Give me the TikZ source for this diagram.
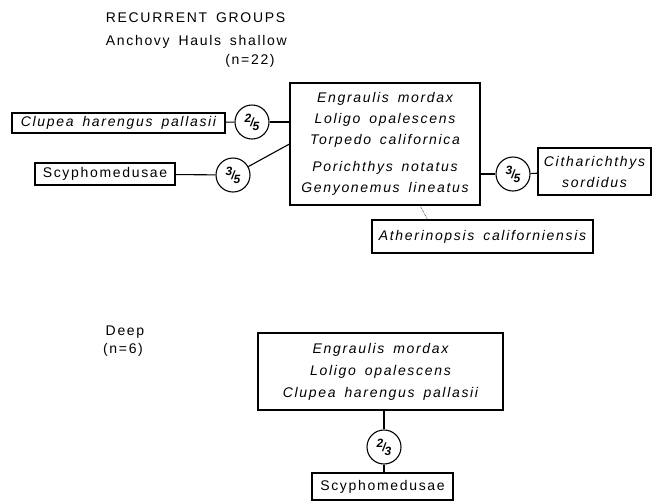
\documentclass[tikz,border=0pt]{standalone}
\usepackage{fontspec}
\setmainfont{Liberation Sans}[LetterSpace=12,WordSpace=1.6]
\usetikzlibrary{calc}
\newcommand{\slfrac}[2]{\raisebox{4pt}{#1}\kern-1pt/\kern-1pt\raisebox{-4pt}{#2}}

\begin{document}
\begin{tikzpicture}[x=1pt, y=-1pt, line width=1.1pt,
  box/.style = {draw, inner sep=0pt, align=center, font=\itshape\fontsize{14}{21}\selectfont},
  plainbox/.style = {box, font=\upshape\fontsize{14}{21}\selectfont},
  ratio/.style = {draw, circle, minimum size=34pt, inner sep=0pt, font=\bfseries\itshape\fontsize{12}{12}\selectfont},
  lbl/.style = {font=\fontsize{14}{18}\selectfont}]
\useasboundingbox (0,0) rectangle (652,501);
\node[lbl, anchor = west] (title) at (102,18) {RECURRENT GROUPS};
\node[lbl, anchor = west] (shallow) at (102,42) {Anchovy Hauls shallow};
\node[lbl] (nshallow) at (250,61) {(n=22)};
\node[box, minimum width=190pt, minimum height=122pt] (main) at (385,144)
  {Engraulis mordax\\Loligo opalescens\\Torpedo californica\\[6pt]Porichthys notatus\\Genyonemus lineatus};
\node[box, minimum width=213pt, minimum height=20pt] (clupea) at (118.5,123) {Clupea harengus pallasii};
\node[plainbox, minimum width=140pt, minimum height=22pt] (scy) at (105,174) {Scyphomedusae};
\node[box, minimum width=113pt, minimum height=47pt] (cith) at (594.5,171.5) {Citharichthys\\sordidus};
\node[box, minimum width=221pt, minimum height=33pt] (ath) at (482.5,236.5) {Atherinopsis californiensis};
\node[ratio] (c25) at (252,122) {\slfrac{2}{5}};
\node[ratio] (c35l) at (233,175) {\slfrac{3}{5}};
\node[ratio] (c35r) at (513,174) {\slfrac{3}{5}};
\draw (clupea) -- (c25);
\draw (c25) -- (c25 -| main.west);
\draw (scy) -- (c35l);
\draw (c35l) -- (main.west);
\draw (main.east |- c35r) -- (c35r);
\draw (c35r) -- (cith);
\draw[densely dotted, line width=0.6pt] ([xshift=35pt]main.south) -- ([xshift=-55pt]ath.north);
\node[lbl] (deep) at (125,332) {Deep};
\node[lbl] (ndeep) at (123,350) {(n=6)};
\node[box, font=\itshape\fontsize{14}{22}\selectfont, minimum width=245pt, minimum height=77pt] (deepbox) at (380.5,371.5)
  {Engraulis mordax\\Loligo opalescens\\Clupea harengus pallasii};
\node[ratio] (c23) at (384,447) {\slfrac{2}{3}};
\node[plainbox, minimum width=141pt, minimum height=27pt] (scy2) at (382.5,486.5) {Scyphomedusae};
\draw (c23 |- deepbox.south) -- (c23.north);
\draw (c23.south) -- (c23 |- scy2.north);
\end{tikzpicture}
\end{document}
